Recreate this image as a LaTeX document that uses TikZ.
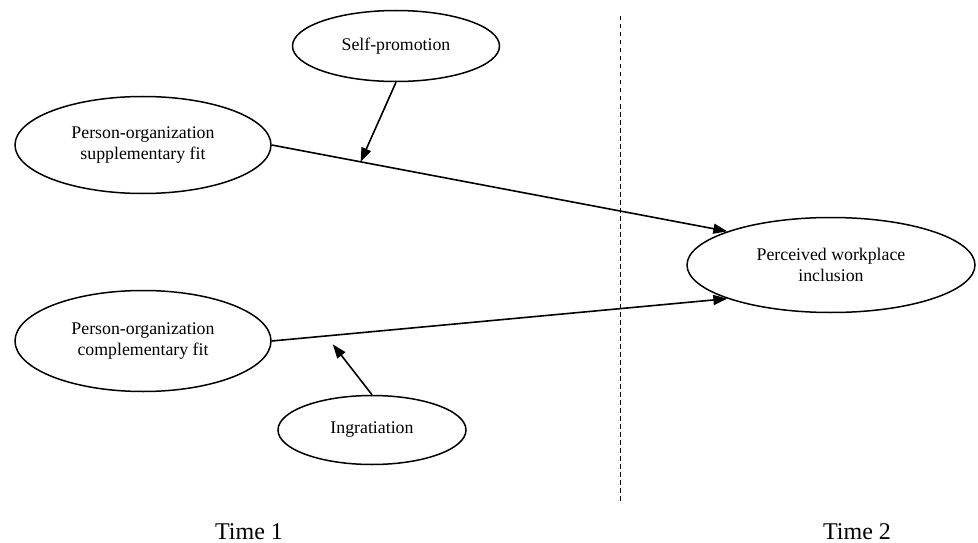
\documentclass[tikz,border=0pt]{standalone}
\usepackage{fontspec}
\setmainfont{Liberation Serif}
\usetikzlibrary{shapes.geometric,arrows.meta,calc}
\begin{document}
\begin{tikzpicture}[x=1pt,y=-1pt,
  oval/.style={draw,ellipse,line width=1.5pt,inner sep=0pt,align=center,
    font=\fontsize{17.8}{21.5}\selectfont},
  conn/.style={line width=1.6pt,-{Triangle[length=14pt,width=10pt]}},
  timelabel/.style={font=\fontsize{24}{28}\selectfont,anchor=base,inner sep=0pt}]
\useasboundingbox (0,0) rectangle (978,543);
\node[oval,minimum width=207pt,minimum height=71pt] (spr) at (396,46) {Self-promotion};
\node[oval,minimum width=256pt,minimum height=97pt] (sup) at (143,145) {Person-organization\\supplementary fit};
\node[oval,minimum width=256pt,minimum height=101pt] (comp) at (143,341) {Person-organization\\complementary fit};
\node[oval,minimum width=288pt,minimum height=95pt] (pwi) at (831,265) {Perceived workplace\\inclusion};
\node[oval,minimum width=188pt,minimum height=69pt] (ing) at (372,430) {Ingratiation};
\draw[line width=0.8pt,dash pattern=on 4.5pt off 3.5pt] (620,16) coordinate (dtop) -- (620,503) coordinate (dbot);
\draw[conn] (sup.east) -- (pwi.162) coordinate[pos=0.195] (m1);
\draw[conn] (comp.east) -- (pwi.198);
\path (comp.east) -- (pwi.198) coordinate[pos=0.134] (m2base);
\coordinate (m2) at ($(m2base)+(0,9)$);
\path (sup.east) -- (pwi.162) coordinate[pos=0.195] (m1b);
\draw[conn] (spr.south) -- (m1b);
\draw[conn] (ing.north) -- (m2);
\node[timelabel] (t1) at (249,539) {Time 1};
\node[timelabel] (t2) at (857,539) {Time 2};
\end{tikzpicture}
\end{document}
